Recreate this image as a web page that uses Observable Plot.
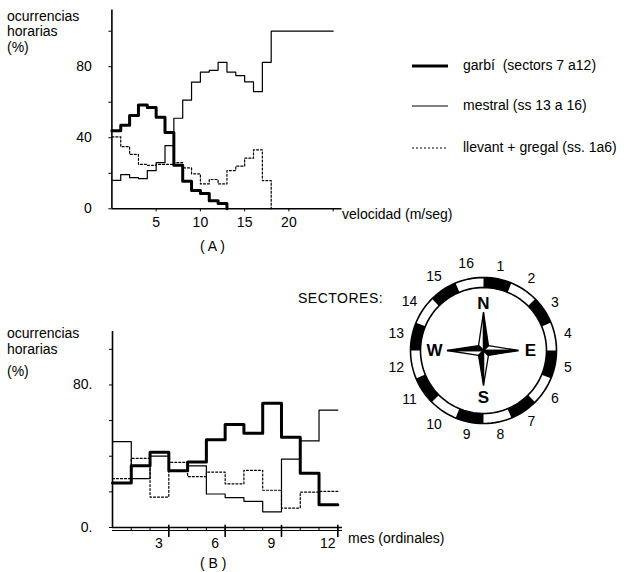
<!DOCTYPE html>
<html><head><meta charset="utf-8">
<script src="https://cdn.jsdelivr.net/npm/d3@7"></script>
<script src="https://cdn.jsdelivr.net/npm/@observablehq/plot@0.6"></script>
<style>
body{margin:0;background:#fff;}
#root{position:relative;width:625px;height:572px;overflow:hidden;font-family:"Liberation Sans",Arial,sans-serif;color:#000;}
.t{position:absolute;white-space:pre;font-size:14px;line-height:1;transform:translateY(-50%);}
#root svg{position:absolute;overflow:visible;}
</style></head><body><div id="root"></div>
<script>
// ---- Panel A: velocity bins (m/s), bin start values ----
const velA = [0,1,2,3,4,5,6,7,8,9,10,11,12,13,14,15,16,17,18,19,20,21,22,23,24];
const garbiA = [44, 47, 52.5, 58.5, 57, 51.5, 43, 24.5, 15.5, 10.3, 8.6, 4.5, 3];
const mestralA = [16, 19.3, 17.5, 17, 21.5, 26, 35.6, 51, 61.2, 71.3, 77, 78, 82.5, 77, 75, 71.5, 66, 82.5, 100, 100, 100, 100, 100, 100, 100];
const llevantA = [40.5, 35, 30.6, 25, 24.5, 25, 25, 26, 23, 19.7, 14, 16.5, 14, 21.5, 24, 28.5, 33.2, 15.9];
const ticksA = [5, 10, 15, 20, 25];
const tickLabelsA = ["5", "10", "15", "20", ""];
const yTicks = [0, 20, 40, 60, 80, 100];
const yLabelsA = ["0", "", "40", "", "80", ""];

// ---- Panel B: months ----
const months = [1,2,3,4,5,6,7,8,9,10,11,12];
const garbiB = [25, 34.7, 42.2, 31.8, 36.8, 49.3, 57.8, 52.9, 69.8, 50.6, 30.5, 12.8];
const mestralB = [48.2, 27.4, 40.1, 31.6, 34.6, 18.8, 16.8, 14.7, 8.8, 38.4, 48.6, 65.9];
const llevantB = [27.4, 38.8, 17.1, 36.6, 28.5, 31.1, 24.5, 32.1, 20.9, 10.9, 19.9, 20.3];
const ticksB = [3, 6, 9, 12];
const yLabelsB = ["0.", "", "", "", "80.", ""];

// ---- Compass ----
const sectors = [1,2,3,4,5,6,7,8,9,10,11,12,13,14,15,16];
const darkSectors = [1,3,5,7,9,11,13,15];
const cardinals = ["N","E","S","W"];

// ---- Legend ----
const seriesNames = ["garbí  (sectors 7 a12)", "mestral (ss 13 a 16)", "llevant + gregal (ss. 1a6)"];

const root = document.getElementById("root");
const FONT = "Liberation Sans, Arial, sans-serif";

function steps(starts, vals, drop) {
  const pts = vals.map((v, i) => ({x: starts[i], y: v}));
  const end = starts[vals.length - 1] + 1;
  pts.push({x: end, y: vals[vals.length - 1]});
  if (drop) pts.push({x: end, y: 0});
  return pts;
}
function put(svg, left, top) {
  svg.style.left = left + "px"; svg.style.top = top + "px";
  root.appendChild(svg);
}
function text(str, left, cy, extra) {
  const d = document.createElement("div");
  d.className = "t"; d.textContent = str;
  d.style.left = left + "px"; d.style.top = cy + "px";
  if (extra) Object.assign(d.style, extra);
  root.appendChild(d);
}
const baseStyle = {fontFamily: FONT, fontSize: "14px", background: "transparent", color: "#000", overflow: "visible"};

// ---- Plot A ----
const plotA = Plot.plot({
  width: 360, height: 240,
  marginLeft: 111.4, marginRight: 18.5, marginTop: 9.4, marginBottom: 31.7,
  x: {domain: [0, 26]}, y: {domain: [0, 112]},
  style: baseStyle,
  marks: [
    Plot.ruleY([0], {strokeWidth: 1.6}),
    Plot.ruleX([0], {strokeWidth: 1.6}),
    Plot.axisY(yTicks, {tickSize: 3, tickPadding: 17, fontSize: 14, label: null,
      tickFormat: d => yLabelsA[yTicks.indexOf(d)]}),
    Plot.axisX(ticksA, {tickSize: 3, tickPadding: 5, fontSize: 14, label: null,
      tickFormat: d => tickLabelsA[ticksA.indexOf(d)]}),
    Plot.line(steps(velA, llevantA, true), {x: "x", y: "y", curve: "step-after", strokeWidth: 1.2, strokeDasharray: "2,2"}),
    Plot.line(steps(velA, mestralA, false), {x: "x", y: "y", curve: "step-after", strokeWidth: 1.2}),
    Plot.line(steps(velA, garbiA, true), {x: "x", y: "y", curve: "step-after", strokeWidth: 3})
  ]
});
put(plotA, 0, 0);

// ---- Plot B ----
const startsB = months.map(m => m - 1);
const plotB = Plot.plot({
  width: 360, height: 260,
  marginLeft: 112, marginRight: 18, marginTop: 31, marginBottom: 33,
  x: {domain: [0, 12.25], axis: null}, y: {domain: [0, 110]},
  style: baseStyle,
  marks: [
    Plot.ruleY([0], {strokeWidth: 1.3}),
    Plot.ruleY([0], {strokeWidth: 1, dy: 3}),
    Plot.ruleX(months, {y1: -1.7, y2: 0, strokeWidth: 1}),
    Plot.ruleX(ticksB, {y1: -5.6, y2: 1.2, strokeWidth: 1.6}),
    Plot.ruleX([0], {strokeWidth: 1.6}),
    Plot.text(ticksB, {x: d => d, y: 0, dy: 16, dx: -10, text: d => String(d), fontSize: 14}),
    Plot.axisY(yTicks, {tickSize: 3, tickPadding: 17, fontSize: 14, label: null,
      tickFormat: d => yLabelsB[yTicks.indexOf(d)]}),
    Plot.line(steps(startsB, llevantB, false), {x: "x", y: "y", curve: "step-after", strokeWidth: 1.2, strokeDasharray: "2,2"}),
    Plot.line(steps(startsB, mestralB, false), {x: "x", y: "y", curve: "step-after", strokeWidth: 1.2}),
    Plot.line(steps(startsB, garbiB, false), {x: "x", y: "y", curve: "step-after", strokeWidth: 3})
  ]
});
put(plotB, 0, 300);

// ---- Compass ----
const rad = a => a * Math.PI / 180;
const R_OUT = 73, R_IN = 63, R_MID = 68;
const arcPts = darkSectors.flatMap(s => d3.range(0, 13).map(t => {
  const a = rad((s - 1) * 22.5 + t * 22.5 / 12);
  return {s, x: R_MID * Math.sin(a), y: R_MID * Math.cos(a)};
}));
const circle = r => d3.range(0, 121).map(t => ({x: r * Math.sin(rad(t * 3)), y: r * Math.cos(rad(t * 3))}));
const tipR = {N: 38.5, E: 35, S: 35, W: 36.5};
const armAngle = {N: 0, E: 90, S: 180, W: 270};
const tri = (c, side) => {
  const a = armAngle[c], r = tipR[c], b = a + side * 45;
  return [
    {c, x: 0, y: 0},
    {c, x: r * Math.sin(rad(a)), y: r * Math.cos(rad(a))},
    {c, x: 7 * Math.sin(rad(b)), y: 7 * Math.cos(rad(b))},
    {c, x: 0, y: 0}
  ];
};
const darkTris = cardinals.flatMap(c => tri(c, 1));
const lightTris = cardinals.flatMap(c => tri(c, -1));
const compass = Plot.plot({
  width: 220, height: 220, margin: 0,
  x: {domain: [-110, 110], axis: null}, y: {domain: [-110, 110], axis: null},
  style: baseStyle,
  marks: [
    Plot.line(arcPts, {x: "x", y: "y", z: "s", stroke: "#000", strokeWidth: 10, strokeLinecap: "butt"}),
    Plot.line(circle(R_OUT), {x: "x", y: "y", strokeWidth: 1.6}),
    Plot.line(circle(R_IN), {x: "x", y: "y", strokeWidth: 1.6}),
    Plot.line(lightTris, {x: "x", y: "y", z: "c", fill: "#fff", stroke: "#000", strokeWidth: 1.3, strokeLinejoin: "miter"}),
    Plot.line(darkTris, {x: "x", y: "y", z: "c", fill: "#000", stroke: "#000", strokeWidth: 1.3, strokeLinejoin: "miter"}),
    Plot.text(sectors, {
      x: s => (s >= 10 ? 89 : 86) * Math.sin(rad((s - 0.5) * 22.5)),
      y: s => (s >= 10 ? 89 : 86) * Math.cos(rad((s - 0.5) * 22.5)),
      text: s => String(s), fontSize: 14
    }),
    Plot.text(cardinals, {
      x: c => 47 * Math.sin(rad(armAngle[c])) + (c === "W" ? -2 : 0),
      y: c => 47 * Math.cos(rad(armAngle[c])),
      text: c => c, fontSize: 17, fontWeight: "bold"
    })
  ]
});
put(compass, 373.3, 240.3);

// ---- Legend ----
const ns = "http://www.w3.org/2000/svg";
const leg = document.createElementNS(ns, "svg");
leg.setAttribute("width", 50); leg.setAttribute("height", 110);
const legY = [16, 56, 98];
const legW = [3, 1.2, 1.2];
const legDash = [null, null, "2,2"];
seriesNames.forEach((n, i) => {
  const l = document.createElementNS(ns, "line");
  l.setAttribute("x1", 2); l.setAttribute("x2", 38);
  l.setAttribute("y1", legY[i]); l.setAttribute("y2", legY[i]);
  l.setAttribute("stroke", "#000"); l.setAttribute("stroke-width", legW[i]);
  if (legDash[i]) l.setAttribute("stroke-dasharray", legDash[i]);
  leg.appendChild(l);
  text(n, 463, 50 + legY[i] - 1);
});
put(leg, 410, 50);

// ---- Texts ----
text("ocurrencias", 7, 16); text("horarias", 7, 31); text("(%)", 7, 47);
text("ocurrencias", 7, 333); text("horarias", 7, 349); text("(%)", 7, 371);
text("velocidad (m/seg)", 342, 214);
text("( A )", 200, 246);
text("( B )", 200, 563);
text("mes (ordinales)", 348, 538);
text("SECTORES:", 298, 298, {letterSpacing: "0.5px"});
</script></body></html>
